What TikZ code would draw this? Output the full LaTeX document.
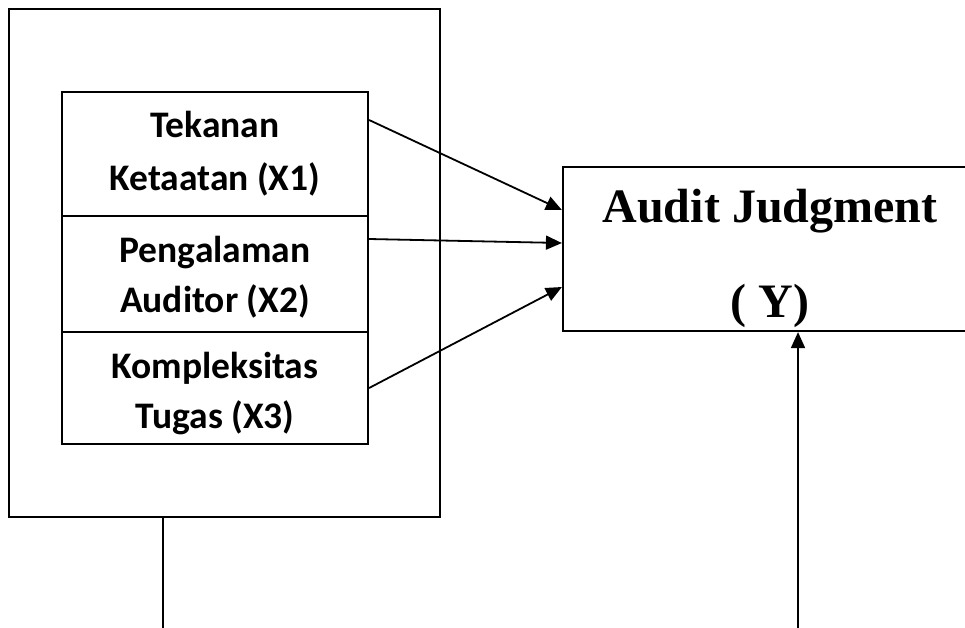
\documentclass[tikz,border=0pt]{standalone}
\usepackage{fontspec}
\newfontfamily\carlitofont{Carlito}
\newfontfamily\timesfont{Liberation Serif}
\usetikzlibrary{arrows.meta}
\begin{document}
\begin{tikzpicture}[x=1pt,y=-1pt,
  outerbox/.style={draw,line width=1.6pt,minimum width=431pt,minimum height=508pt,inner sep=0pt},
  varbox/.style={draw,line width=2.2pt,minimum width=306pt,inner sep=0pt},
  vartext/.style={anchor=base,inner sep=0pt,font=\carlitofont\bfseries\fontsize{37.5}{45}\selectfont},
  ybox/.style={draw,line width=2.2pt,minimum width=414pt,minimum height=164pt,inner sep=0pt},
  ytext/.style={anchor=base,inner sep=0pt,font=\timesfont\bfseries\fontsize{48}{58}\selectfont},
  conn/.style={line width=1.8pt},
  arr/.style={line width=1.8pt,-{Triangle[length=16pt,width=14pt]}}]
\useasboundingbox (0,0) rectangle (965,627);
\clip (0,0) rectangle (965,627);
\node[outerbox] (outer) at (224.5,263) {};
\node[varbox,minimum height=124pt] (x1) at (215,154) {};
\node[varbox,minimum height=116pt] (x2) at (215,274) {};
\node[varbox,minimum height=112pt] (x3) at (215,388) {};
\node[vartext] (t1a) at (215,137) {Tekanan};
\node[vartext] (t1b) at (215,190) {Ketaatan (X1)};
\node[vartext] (t2a) at (215,262) {Pengalaman};
\node[vartext] (t2b) at (215,312) {Auditor (X2)};
\node[vartext] (t3a) at (215,378) {Kompleksitas};
\node[vartext] (t3b) at (215,428) {Tugas (X3)};
\node[ybox] (Y) at (770,249) {};
\node[ytext] (ya) at (770,222) {Audit Judgment};
\node[ytext] (yb) at (770,317) {( Y)};
\coordinate (b1) at (163,632);
\coordinate (b2) at (798,632);
\draw[arr] ([yshift=34pt]x1.east) -- ([yshift=39pt]Y.west);
\draw[arr] ([yshift=35pt]x2.east) -- ([yshift=6pt]Y.west);
\draw[arr] (x3.east) -- ([yshift=-38pt]Y.west);
\draw[conn] ([xshift=-61.5pt]outer.south) -- (b1);
\draw[arr] (b2) -- ([xshift=28pt]Y.south);
\end{tikzpicture}
\end{document}
